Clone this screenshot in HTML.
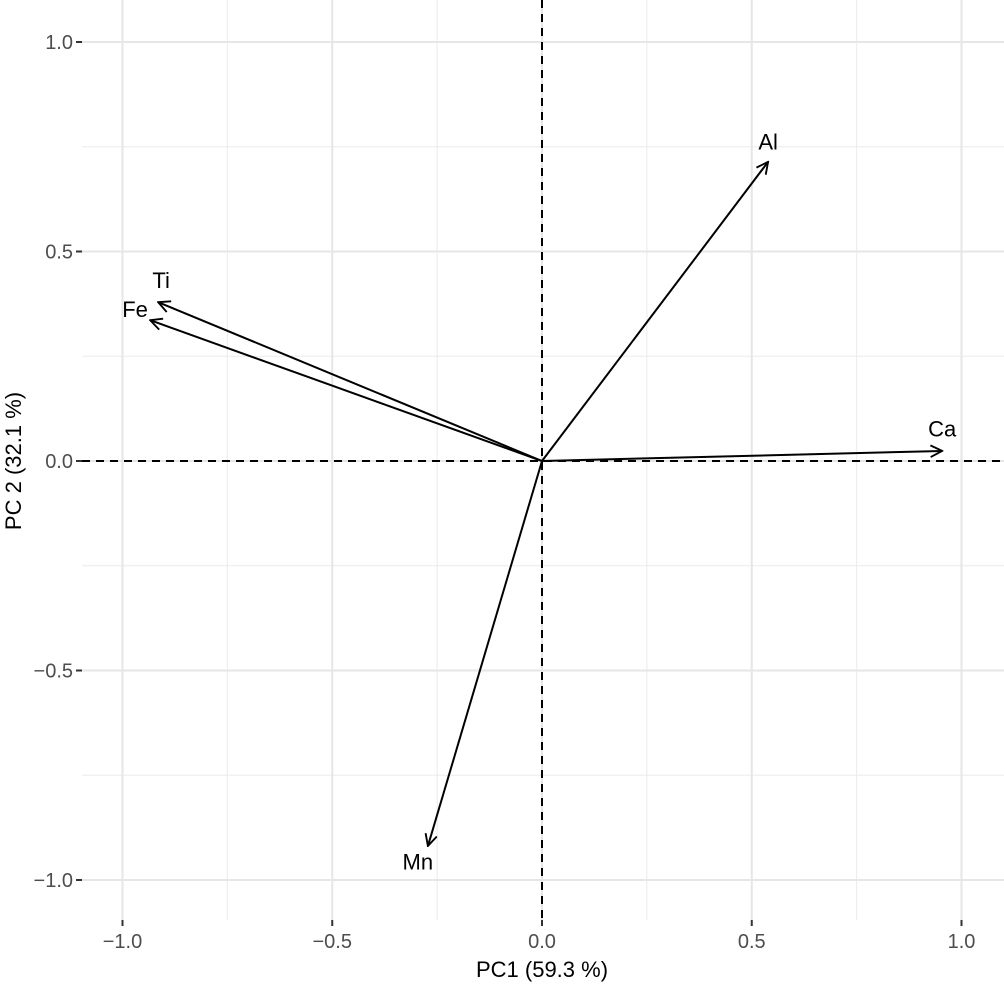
<!DOCTYPE html>
<html><head><meta charset="utf-8"><style>
html,body{margin:0;padding:0;background:#fff}
svg{display:block;font-family:"Liberation Sans",sans-serif}
</style></head><body>
<svg id="chart" width="1004" height="985" xmlns="http://www.w3.org/2000/svg">
<defs><marker id="ah" viewBox="0 0 12 12" refX="11" refY="6" markerWidth="14" markerHeight="14" markerUnits="userSpaceOnUse" orient="auto"><path d="M1,1 L11,6 L1,11" fill="none" stroke="#000" stroke-width="1.6"/></marker></defs>
<g id="grid"></g>
<g id="axes"></g>
<g id="arrows"></g>
<text x="542" y="977" text-anchor="middle" font-size="22" fill="#000">PC1 (59.3 %)</text>
<text transform="translate(21,461) rotate(-90)" text-anchor="middle" font-size="22" fill="#000">PC 2 (32.1 %)</text>
</svg>
<script>
const variables=["Al","Ca","Ti","Fe","Mn"];
const pc1=[0.539,0.954,-0.915,-0.934,-0.272];
const pc2=[0.714,0.024,0.379,0.336,-0.919];
const labelPc1=[0.539,0.954,-0.908,-0.97,-0.296];
const labelPc2=[0.76,0.075,0.43,0.36,-0.958];
const majorTicks=[-1,-0.5,0,0.5,1];
const tickLabels=["\u22121.0","\u22120.5","0.0","0.5","1.0"];
const minorTicks=[-0.75,-0.25,0.25,0.75];
const X=v=>542+v*419.5, Y=v=>461-v*419;
const ns="http://www.w3.org/2000/svg";
function mk(p,t,a){const e=document.createElementNS(ns,t);for(const k in a)e.setAttribute(k,a[k]);p.appendChild(e);return e;}
const grid=document.getElementById('grid'),axes=document.getElementById('axes'),arr=document.getElementById('arrows');
const L=82,R=1004,T=0,B=920;
minorTicks.forEach(v=>{
 let a=mk(grid,'line',{x1:X(v),x2:X(v),y1:T,y2:B,stroke:'#ebebeb','stroke-width':1});
 
 let b=mk(grid,'line',{x1:L,x2:R,y1:Y(v),y2:Y(v),stroke:'#ebebeb','stroke-width':1});
 
});
majorTicks.forEach((v,i)=>{
 let a=mk(grid,'line',{x1:X(v),x2:X(v),y1:T,y2:B,stroke:'#e6e6e6','stroke-width':2});
 
 let b=mk(grid,'line',{x1:L,x2:R,y1:Y(v),y2:Y(v),stroke:'#e6e6e6','stroke-width':2});
 
 let tx=mk(axes,'line',{x1:X(v),x2:X(v),y1:B,y2:B+6,stroke:'#333','stroke-width':2});
 
 let ty=mk(axes,'line',{x1:L-6,x2:L,y1:Y(v),y2:Y(v),stroke:'#333','stroke-width':2});
 
 let lx=mk(axes,'text',{x:X(v),y:B+28,'text-anchor':'middle','font-size':20,fill:'#4d4d4d'});lx.textContent=tickLabels[i];
 
 let ly=mk(axes,'text',{x:L-9,y:Y(v)+7,'text-anchor':'end','font-size':20,fill:'#4d4d4d'});ly.textContent=tickLabels[i];
 
});
let h=mk(axes,'line',{x1:L,x2:R,y1:Y(0),y2:Y(0),stroke:'#000','stroke-width':2,'stroke-dasharray':'8,6'});

let v=mk(axes,'line',{x1:X(0),x2:X(0),y1:T,y2:B,stroke:'#000','stroke-width':2,'stroke-dasharray':'8,6'});

variables.forEach((n,i)=>{
 let l=mk(arr,'line',{x1:X(0),y1:Y(0),x2:X(pc1[i]),y2:Y(pc2[i]),stroke:'#000','stroke-width':2,'marker-end':'url(#ah)'});
 
 let t=mk(arr,'text',{x:X(labelPc1[i]),y:Y(labelPc2[i])+7,'text-anchor':'middle','font-size':22,fill:'#000'});t.textContent=n;
 
});
</script>
</body></html>
